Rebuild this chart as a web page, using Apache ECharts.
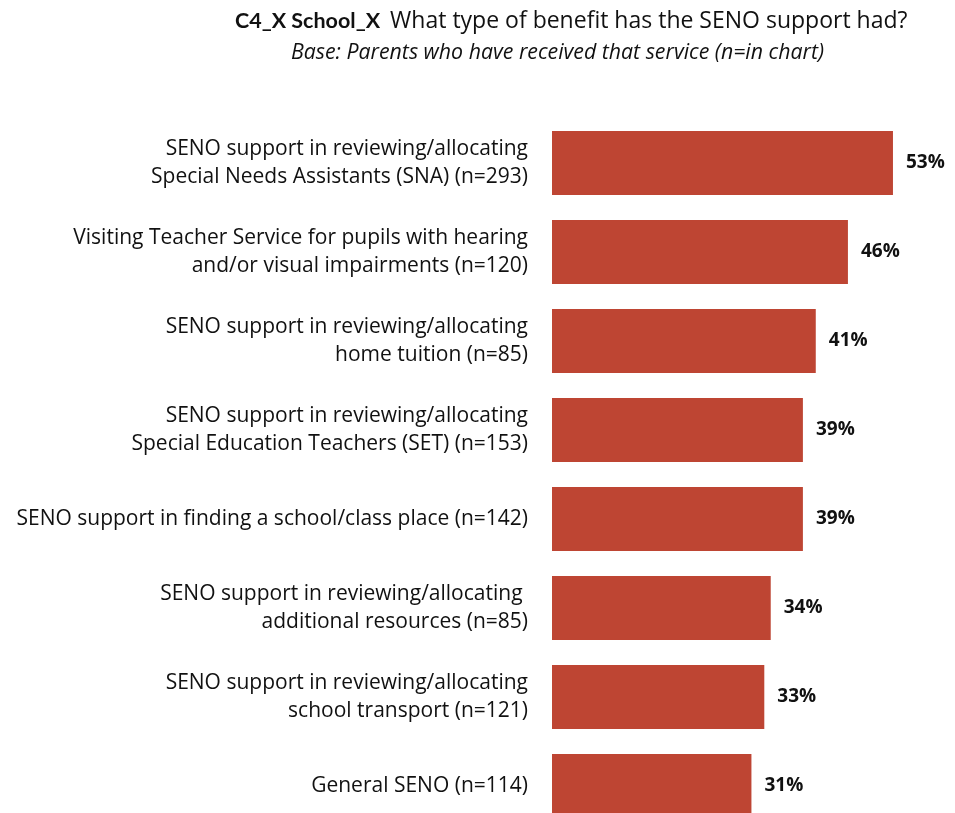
<!DOCTYPE html>
<html>
<head>
<meta charset="utf-8">
<script src="https://cdn.jsdelivr.net/npm/echarts@6/dist/echarts.min.js"></script>
<style>
  html, body { margin: 0; padding: 0; background: #ffffff; }
  #chart { width: 955px; height: 813px; }
</style>
</head>
<body>
<div id="chart"></div>
<script>
// Service categories (top to bottom) and the share of parents reporting a benefit
const categories = [
  "SENO support in reviewing/allocating\nSpecial Needs Assistants (SNA) (n=293)",
  "Visiting Teacher Service for pupils with hearing\nand/or visual impairments (n=120)",
  "SENO support in reviewing/allocating\nhome tuition (n=85)",
  "SENO support in reviewing/allocating\nSpecial Education Teachers (SET) (n=153)",
  "SENO support in finding a school/class place (n=142)",
  "SENO support in reviewing/allocating \nadditional resources (n=85)",
  "SENO support in reviewing/allocating\nschool transport (n=121)",
  "General SENO (n=114)"
];
const values = [53, 46, 41, 39, 39, 34, 33, 31];

const FONT = "'Open Sans', 'Noto Sans', sans-serif";

const chart = echarts.init(document.getElementById('chart'), null, { renderer: 'canvas' });

chart.setOption({
  backgroundColor: '#ffffff',
  animation: false,
  title: [
    {
      left: 230,
      top: 5,
      text: '{b|C4_X School_X}  {n|What type of benefit has the SENO support had?}',
      textStyle: {
        fontWeight: 'normal',
        rich: {
          b: { fontFamily: "Lato, 'Open Sans', sans-serif", fontSize: 21.5, fontWeight: 'bold', color: '#111111' },
          n: { fontFamily: FONT, fontSize: 23, fontWeight: 'normal', color: '#111111' }
        }
      }
    },
    {
      left: 286,
      top: 37,
      text: 'Base: Parents who have received that service (n=in chart)',
      textStyle: { fontFamily: FONT, fontSize: 21.3, fontStyle: 'italic', fontWeight: 'normal', color: '#111111' }
    }
  ],
  grid: { left: 552, top: 118.5, width: 386, height: 712, containLabel: false, outerBoundsMode: 'none' },
  xAxis: {
    type: 'value',
    min: 0,
    max: 60,
    show: false
  },
  yAxis: {
    type: 'category',
    inverse: true,
    data: categories,
    axisLine: { show: false },
    axisTick: { show: false },
    splitLine: { show: false },
    axisLabel: {
      margin: 24,
      align: 'right',
      fontFamily: FONT,
      fontSize: 21,
      lineHeight: 28,
      color: '#111111'
    }
  },
  series: [{
    type: 'bar',
    data: values,
    barWidth: '72%',
    itemStyle: { color: '#BE4533' },
    label: {
      show: true,
      position: 'right',
      distance: 13,
      formatter: '{c}%',
      fontFamily: FONT,
      fontSize: 19,
      fontWeight: 'bold',
      color: '#111111'
    }
  }]
});
</script>
</body>
</html>
